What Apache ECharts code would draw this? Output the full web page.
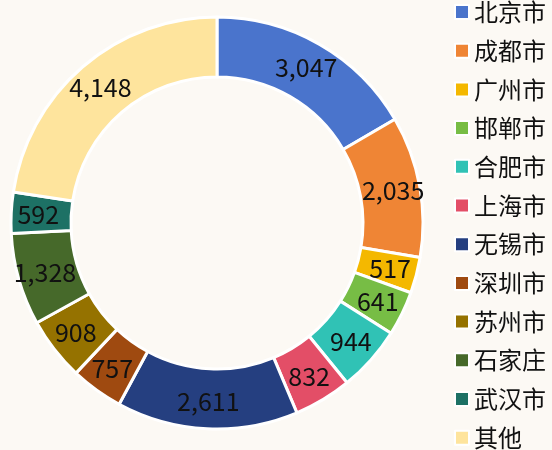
<!DOCTYPE html>
<html>
<head>
<meta charset="utf-8">
<script src="https://cdn.jsdelivr.net/npm/echarts@6/dist/echarts.min.js"></script>
<style>
  html, body { margin: 0; padding: 0; background: #fcf9f4; }
  #main { width: 552px; height: 450px; }
</style>
</head>
<body>
<div id="main"></div>
<script>
// 城市与数值
var cities = ['北京市', '成都市', '广州市', '邯郸市', '合肥市', '上海市', '无锡市', '深圳市', '苏州市', '石家庄', '武汉市', '其他'];
var values = [3047, 2035, 517, 641, 944, 832, 2611, 757, 908, 1328, 592, 4148];
var colors = ['#4a74cc', '#ef8535', '#f4b800', '#77bd45', '#30c2b5', '#e34e67', '#253f80', '#9f4a10', '#957200', '#46692a', '#1d7165', '#fee49d'];

var chart = echarts.init(document.getElementById('main'));
var font = '"Noto Sans CJK SC", "Noto Sans", sans-serif';

var option = {
    backgroundColor: '#fcf9f4',
    color: colors,
    legend: {
        orient: 'vertical',
        left: 449,
        top: -5,
        height: 520,
        itemWidth: 14,
        itemHeight: 14,
        itemGap: 14.7,
        icon: 'rect',
        textStyle: { fontSize: 24, color: '#111', fontFamily: font },
        data: cities
    },
    series: [{
        type: 'pie',
        center: [217, 223],
        radius: [146, 206],
        startAngle: 90,
        clockwise: true,
        avoidLabelOverlap: false,
        itemStyle: { borderColor: '#ffffff', borderWidth: 3 },
        label: {
            show: true,
            position: 'inside',
            color: '#111',
            fontSize: 25,
            fontFamily: font,
            formatter: function (p) { return p.value.toLocaleString('en-US'); }
        },
        labelLine: { show: false },
        emphasis: { disabled: true },
        data: cities.map(function (c, i) { return { name: c, value: values[i] }; })
    }]
};
chart.setOption(option);
</script>
</body>
</html>
